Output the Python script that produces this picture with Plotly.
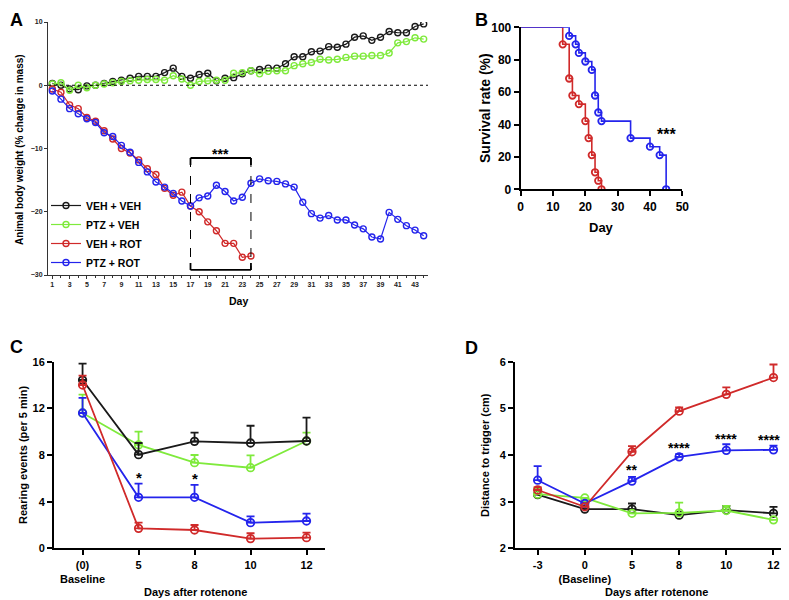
import plotly.graph_objects as go

# ---------------- Panel A data ----------------
A_DAYS = list(range(1, 45))
A_VEH_VEH = [0.3, 0.0, -0.6, -0.7, -0.1, 0.0, 0.3, 0.6, 0.8, 1.1, 1.4, 1.4, 1.4, 2.0, 2.7, 1.4,
             1.1, 1.7, 1.9, 0.7, 1.1, 1.2, 1.8, 2.3, 2.5, 2.7, 2.7, 3.4, 4.5, 4.5, 5.3, 5.4,
             6.1, 6.0, 6.5, 7.6, 7.8, 7.1, 7.6, 8.5, 8.3, 8.3, 9.3, 9.7]
A_PTZ_VEH = [0.2, 0.4, -0.8, 0.0, -0.4, 0.0, 0.2, 0.4, 0.6, 0.7, 0.8, 0.9, 0.9, 0.8, 1.5, 1.0,
             0.0, 0.6, 0.7, 0.8, 0.8, 1.9, 2.0, 2.3, 1.8, 2.2, 2.3, 2.3, 3.1, 3.4, 3.6, 4.1,
             4.0, 4.1, 4.4, 4.6, 4.6, 4.7, 4.7, 5.1, 6.7, 6.9, 7.5, 7.3]
A_DAYS_ROT = list(range(1, 25))
A_VEH_ROT = [-0.6, -1.1, -3.1, -3.7, -5.1, -5.7, -7.2, -8.5, -10.0, -10.7, -11.8, -13.2, -14.1,
             -16.3, -17.4, -16.9, -19.1, -20.0, -21.6, -23.0, -25.0, -25.0, -27.2, -27.0]
A_PTZ_ROT = [-0.9, -2.2, -3.7, -4.5, -5.3, -5.9, -7.5, -8.1, -9.5, -10.6, -12.2, -13.7, -15.3,
             -16.1, -17.1, -18.3, -19.1, -17.8, -17.5, -15.8, -16.8, -18.3, -17.7, -15.5, -14.8,
             -15.1, -15.2, -15.6, -16.1, -18.5, -20.3, -21.0, -20.6, -21.3, -21.3, -22.1, -22.7,
             -24.0, -24.3, -20.1, -21.2, -22.2, -22.9, -23.8]
A_XTICKS = [1, 3, 5, 7, 9, 11, 13, 15, 17, 19, 21, 23, 25, 27, 29, 31, 33, 35, 37, 39, 41, 43]
A_YTICKS = [-30, -20, -10, 0, 10]
A_BRACKET_DAYS = [17, 24]
A_BRACKET_Y = [-11.5, -29.2]

# ---------------- Panel B data ----------------
B_ROT_DAYS = [0, 13, 15, 16, 18, 20, 21, 22, 23, 24, 25]
B_ROT_SURV = [100, 89.5, 68.4, 57.9, 52.6, 42.1, 31.6, 21.1, 10.5, 5.3, 0]
B_PTZ_DAYS = [0, 15, 17, 18, 20, 22, 23, 24, 25, 34, 40, 43, 45]
B_PTZ_SURV = [100, 94.7, 89.5, 84.2, 78.9, 73.7, 57.9, 47.4, 42.1, 31.6, 26.3, 21.1, 0]

# ---------------- Panel C data ----------------
C_CATS = ["(0)<br>Baseline", "5", "8", "10", "12"]
C_VEH_VEH = [14.43, 8.03, 9.17, 9.03, 9.2]
C_VEH_VEH_ERR = [1.4, 1.0, 0.74, 1.48, 2.0]
C_PTZ_VEH = [11.6, 8.86, 7.34, 6.91, 9.2]
C_PTZ_VEH_ERR = [1.57, 1.14, 0.66, 1.06, 0.71]
C_VEH_ROT = [14.0, 1.71, 1.57, 0.83, 0.91]
C_VEH_ROT_ERR = [0.8, 0.49, 0.43, 0.46, 0.43]
C_PTZ_ROT = [11.6, 4.37, 4.37, 2.2, 2.34]
C_PTZ_ROT_ERR = [1.3, 1.17, 1.06, 0.54, 0.63]
C_STARS = [(1, "*", 6.1), (2, "*", 5.95)]  # (category index, text, y)

# ---------------- Panel D data ----------------
D_CATS = ["-3", "0<br>(Baseline)", "5", "8", "10", "12"]
D_VEH_VEH = [3.15, 2.84, 2.84, 2.71, 2.82, 2.75]
D_VEH_VEH_ERR = [0.0, 0.0, 0.12, 0.0, 0.09, 0.14]
D_PTZ_VEH = [3.16, 3.08, 2.75, 2.76, 2.81, 2.61]
D_PTZ_VEH_ERR = [0.13, 0.0, 0.0, 0.22, 0.1, 0.0]
D_VEH_ROT = [3.25, 2.89, 4.07, 4.94, 5.3, 5.66]
D_VEH_ROT_ERR = [0.06, 0.0, 0.12, 0.08, 0.15, 0.28]
D_PTZ_ROT = [3.46, 2.96, 3.44, 3.96, 4.1, 4.11]
D_PTZ_ROT_ERR = [0.3, 0.0, 0.09, 0.06, 0.13, 0.09]
D_STARS = [(2, "**", 3.67), (3, "****", 4.15), (4, "****", 4.35), (5, "****", 4.32)]

BLACK = "#1a1a1a"
GREEN = "#7fea3c"
RED = "#d02a2a"
BLUE = "#2424ec"
FONT = "Liberation Sans, Arial, sans-serif"

# page body has an 8px margin; figure fills the rest of the 789x600 window
OFF = 8
W, H = 789 - OFF, 600 - OFF


def dx(px):
    return (px - OFF) / W


def dy(py):
    return 1 - (py - OFF) / H


fig = go.Figure()

# ---- Panel A traces ----
for name, xs, ys, col in [("VEH + VEH", A_DAYS, A_VEH_VEH, BLACK),
                          ("PTZ + VEH", A_DAYS, A_PTZ_VEH, GREEN),
                          ("VEH + ROT", A_DAYS_ROT, A_VEH_ROT, RED),
                          ("PTZ + ROT", A_DAYS, A_PTZ_ROT, BLUE)]:
    fig.add_trace(go.Scatter(x=xs, y=ys, mode="lines+markers", name=name,
                             line=dict(color=col, width=1.2),
                             marker=dict(symbol="circle-open", size=6, color=col,
                                         line=dict(width=1.4, color=col)),
                             xaxis="x", yaxis="y", showlegend=True))

# ---- Panel B traces ----
for xs, ys, col in [(B_ROT_DAYS, B_ROT_SURV, RED), (B_PTZ_DAYS, B_PTZ_SURV, BLUE)]:
    fig.add_trace(go.Scatter(x=xs, y=ys, mode="lines", line=dict(color=col, width=1.6, shape="hv"),
                             xaxis="x2", yaxis="y2", showlegend=False, hoverinfo="skip"))
    fig.add_trace(go.Scatter(x=xs[1:], y=ys[1:], mode="markers",
                             marker=dict(symbol="circle-open", size=6.5, color=col,
                                         line=dict(width=1.8, color=col)),
                             xaxis="x2", yaxis="y2", showlegend=False))

# ---- Panel C traces ----
for ys, es, col in [(C_PTZ_VEH, C_PTZ_VEH_ERR, GREEN), (C_VEH_VEH, C_VEH_VEH_ERR, BLACK),
                    (C_PTZ_ROT, C_PTZ_ROT_ERR, BLUE), (C_VEH_ROT, C_VEH_ROT_ERR, RED)]:
    fig.add_trace(go.Scatter(x=C_CATS, y=ys, mode="lines+markers",
                             line=dict(color=col, width=1.8),
                             marker=dict(symbol="circle-open", size=7.5, color=col,
                                         line=dict(width=1.8, color=col)),
                             error_y=dict(type="data", symmetric=False, array=es,
                                          arrayminus=[0] * len(es), color=col,
                                          thickness=1.8, width=4),
                             xaxis="x3", yaxis="y3", showlegend=False))

# ---- Panel D traces ----
for ys, es, col in [(D_VEH_VEH, D_VEH_VEH_ERR, BLACK), (D_PTZ_VEH, D_PTZ_VEH_ERR, GREEN),
                    (D_PTZ_ROT, D_PTZ_ROT_ERR, BLUE), (D_VEH_ROT, D_VEH_ROT_ERR, RED)]:
    fig.add_trace(go.Scatter(x=D_CATS, y=ys, mode="lines+markers",
                             line=dict(color=col, width=1.8),
                             marker=dict(symbol="circle-open", size=7.5, color=col,
                                         line=dict(width=1.8, color=col)),
                             error_y=dict(type="data", symmetric=False, array=es,
                                          arrayminus=[0] * len(es), color=col,
                                          thickness=1.8, width=4),
                             xaxis="x4", yaxis="y4", showlegend=False))

bold = lambda size, color="black": dict(family=FONT, size=size, color=color, weight="bold")

thin_axis = dict(showline=True, linecolor="#333", linewidth=1, ticks="outside", ticklen=3,
                 tickwidth=1, tickcolor="#333", showgrid=False, zeroline=False,
                 tickfont=bold(7, "#222"))
thick_axis = dict(showline=True, linecolor="black", linewidth=2, ticks="outside", ticklen=5,
                  tickwidth=2, tickcolor="black", showgrid=False, zeroline=False)

fig.update_layout(
    width=W, height=H, margin=dict(l=0, r=0, t=0, b=0, autoexpand=False),
    paper_bgcolor="white", plot_bgcolor="white",
    font=dict(family=FONT),
    showlegend=True,
    legend=dict(x=dx(46), y=dy(191), xanchor="left", yanchor="top",
                font=bold(10.5), bgcolor="rgba(0,0,0,0)", itemwidth=30, tracegroupgap=0),
    xaxis=dict(thin_axis, domain=[dx(48), dx(428)], range=[0.5, 44.5], anchor="y",
               tickvals=A_XTICKS, minor=dict(dtick=1, ticks="outside", ticklen=2, tickcolor="#333")),
    yaxis=dict(thin_axis, domain=[dy(275), dy(22)], range=[-30, 10], anchor="x",
               tickvals=A_YTICKS),
    xaxis2=dict(thick_axis, domain=[dx(520.7), dx(682.3)], range=[0, 50], anchor="y2",
                dtick=10, tickfont=bold(12)),
    yaxis2=dict(thick_axis, domain=[dy(189.3), dy(27.3)], range=[0, 100], anchor="x2",
                dtick=20, tickfont=bold(12)),
    xaxis3=dict(thick_axis, domain=[dx(54), dx(325)], range=[-0.51, 4.33], anchor="y3",
                type="category", tickfont=bold(11)),
    yaxis3=dict(thick_axis, domain=[dy(548.3), dy(361.7)], range=[0, 16], anchor="x3",
                dtick=4, tickfont=bold(11)),
    xaxis4=dict(thick_axis, domain=[dx(515), dx(786.7)], range=[-0.48, 5.28], anchor="y4",
                type="category", tickfont=bold(11)),
    yaxis4=dict(thick_axis, domain=[dy(548.3), dy(361.7)], range=[2, 6], anchor="x4",
                dtick=1, tickfont=bold(11)),
)

# Panel A reference shapes
b0, b1 = A_BRACKET_DAYS
ytop, ybot = A_BRACKET_Y
shapes = [
    dict(type="line", xref="x", yref="y", x0=0.5, x1=44.5, y0=0, y1=0,
         line=dict(color="black", width=1, dash="dot")),
    dict(type="line", xref="x", yref="y", x0=b0, x1=b1, y0=ytop, y1=ytop,
         line=dict(color="black", width=1.8)),
    dict(type="line", xref="x", yref="y", x0=b0, x1=b1, y0=ybot, y1=ybot,
         line=dict(color="black", width=1.8)),
]
for bx in A_BRACKET_DAYS:
    shapes.append(dict(type="line", xref="x", yref="y", x0=bx, x1=bx, y0=ytop, y1=ybot,
                       line=dict(color="black", width=1, dash="dash")))
    shapes.append(dict(type="line", xref="x", yref="y", x0=bx, x1=bx, y0=ytop, y1=ytop - 1.1,
                       line=dict(color="black", width=1.8)))
    shapes.append(dict(type="line", xref="x", yref="y", x0=bx, x1=bx, y0=ybot + 1.1, y1=ybot,
                       line=dict(color="black", width=1.8)))
fig.update_layout(shapes=shapes)

ann = []


def paper_text(text, x, y, size, angle=0):
    ann.append(dict(text=text, xref="paper", yref="paper", x=dx(x), y=dy(y),
                    xanchor="center", yanchor="middle", showarrow=False,
                    textangle=angle, font=bold(size)))


# Panel letters
paper_text("A", 16, 20, 18)
paper_text("B", 481, 20, 18)
paper_text("C", 16, 347, 18)
paper_text("D", 471, 348, 18)

# Axis titles
paper_text("Animal body weight (% change in mass)", 19, 150, 10, -90)
paper_text("Day", 238, 301, 10.5)
paper_text("Survival rate (%)", 485, 108, 14, -90)
paper_text("Day", 601, 227, 13)
paper_text("Rearing events (per 5 min)", 23, 455, 11, -90)
paper_text("Days after rotenone", 195, 592, 11)
paper_text("Distance to trigger (cm)", 485, 455, 11, -90)
paper_text("Days after rotenone", 656, 592, 11)

# Significance stars
ann.append(dict(text="***", xref="x", yref="y", x=20.5, y=-10.9, showarrow=False,
                font=bold(14), xanchor="center", yanchor="middle"))
ann.append(dict(text="***", xref="x2", yref="y2", x=45, y=34, showarrow=False,
                font=bold(16), xanchor="center", yanchor="middle"))
for idx, txt, yv in C_STARS:
    ann.append(dict(text=txt, xref="x3", yref="y3", x=idx, y=yv, showarrow=False,
                    font=bold(15), xanchor="center", yanchor="middle"))
for idx, txt, yv in D_STARS:
    ann.append(dict(text=txt, xref="x4", yref="y4", x=idx, y=yv, showarrow=False,
                    font=bold(14), xanchor="center", yanchor="middle",
                    xshift=-4 if idx == 5 else 0))

fig.update_layout(annotations=ann)

fig.write_html("out.html")
